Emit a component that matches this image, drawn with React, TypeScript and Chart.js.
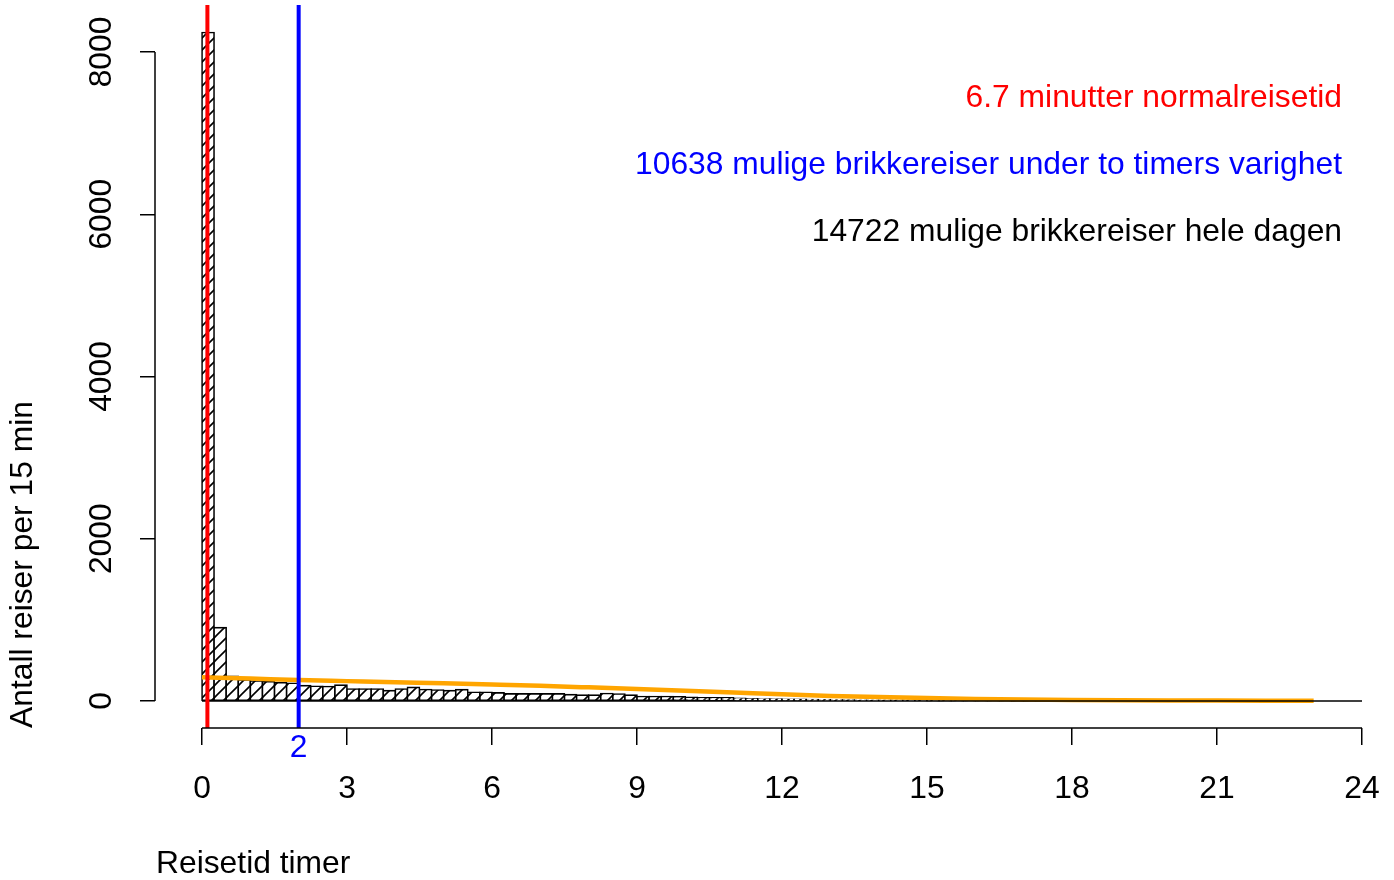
import React, { useEffect, useRef } from "react";
import { Chart, registerables } from "chart.js";

Chart.register(...registerables);

// ---- data ----
const binWidthHours = 0.25;
const binCounts = [
  8240, 905, 305, 260, 246, 238, 226, 218,
  190, 182, 178, 196, 148, 148, 148, 128, 148, 168,
  142, 136, 128, 140, 108, 108, 100, 88, 88, 88,
  88, 88, 78, 72, 72, 92, 86, 72, 55, 55,
  55, 52, 46, 40, 38, 40, 32, 26, 24, 24,
  20, 22, 17, 15, 13, 11, 10, 9, 8, 7,
  6, 6, 5, 5, 4, 4, 3, 3, 3, 2,
  2, 2, 2, 1, 1, 1, 1, 1, 1, 1,
  1, 0, 1, 0, 0, 1, 0, 0, 0, 0,
  0, 0, 0, 0, 0, 0, 0, 0,
];
const curveHours = [0, 1, 2, 3, 4, 5, 6, 7, 8, 9, 10, 11, 12, 13, 14, 15, 16, 17, 18, 19, 20, 21, 22, 23];
const curveValues = [292, 276, 259, 245, 231, 218, 203, 187, 168, 148, 127, 105, 82, 63, 48, 36, 26, 18, 12, 8, 6, 5, 4, 3];
const xTickValues = [0, 3, 6, 9, 12, 15, 18, 21, 24];
const yTickValues = [0, 2000, 4000, 6000, 8000];
const normalTravelHours = 6.7 / 60;
const limitHours = 2;
const limitLabel = "2";
const annotationLines = [
  { text: "6.7 minutter normalreisetid", color: "#FF0000" },
  { text: "10638 mulige brikkereiser under to timers varighet", color: "#0000FF" },
  { text: "14722 mulige brikkereiser hele dagen", color: "#000000" },
];
const xTitle = "Reisetid timer";
const yTitle = "Antall reiser per 15 min";

const FONT = '31.8px "Liberation Sans", Arial, Helvetica, sans-serif';

function makeHatch(): CanvasPattern | string {
  const c = document.createElement("canvas");
  c.width = 12;
  c.height = 12;
  const g = c.getContext("2d");
  if (!g) return "white";
  g.fillStyle = "white";
  g.fillRect(0, 0, 12, 12);
  g.strokeStyle = "black";
  g.lineWidth = 1.6;
  g.beginPath();
  g.moveTo(-2, 14);
  g.lineTo(14, -2);
  g.moveTo(-2, 2);
  g.lineTo(2, -2);
  g.moveTo(10, 14);
  g.lineTo(14, 10);
  g.stroke();
  const p = g.createPattern(c, "repeat");
  return p || "white";
}

const rDecor = {
  id: "rDecor",
  afterDatasetsDraw(chart: any) {
    const ctx: CanvasRenderingContext2D = chart.ctx;
    const xs = chart.scales.x;
    const ys = chart.scales.y;
    const area = chart.chartArea;
    ctx.save();
    // histogram baseline
    ctx.strokeStyle = "black";
    ctx.lineWidth = 1.5;
    ctx.beginPath();
    ctx.moveTo(xs.getPixelForValue(0), ys.getPixelForValue(0));
    ctx.lineTo(xs.getPixelForValue(binCounts.length * binWidthHours), ys.getPixelForValue(0));
    ctx.stroke();

    // vertical reference lines
    ctx.lineWidth = 4;
    ctx.strokeStyle = "#FF0000";
    ctx.beginPath();
    ctx.moveTo(xs.getPixelForValue(normalTravelHours), area.top);
    ctx.lineTo(xs.getPixelForValue(normalTravelHours), area.bottom);
    ctx.stroke();
    ctx.strokeStyle = "#0000FF";
    ctx.beginPath();
    ctx.moveTo(xs.getPixelForValue(limitHours), area.top);
    ctx.lineTo(xs.getPixelForValue(limitHours), area.bottom);
    ctx.stroke();
    ctx.restore();
  },
  afterDraw(chart: any) {
    const ctx: CanvasRenderingContext2D = chart.ctx;
    const xs = chart.scales.x;
    const ys = chart.scales.y;
    const area = chart.chartArea;
    ctx.save();
    ctx.strokeStyle = "black";
    ctx.lineWidth = 1.5;
    // x axis line
    ctx.beginPath();
    ctx.moveTo(xs.getPixelForValue(xTickValues[0]), area.bottom);
    ctx.lineTo(xs.getPixelForValue(xTickValues[xTickValues.length - 1]), area.bottom);
    ctx.stroke();
    // y axis line
    ctx.beginPath();
    ctx.moveTo(area.left, ys.getPixelForValue(yTickValues[0]));
    ctx.lineTo(area.left, ys.getPixelForValue(yTickValues[yTickValues.length - 1]));
    ctx.stroke();

    ctx.font = FONT;
    ctx.fillStyle = "black";
    // x tick labels
    ctx.textAlign = "center";
    ctx.textBaseline = "alphabetic";
    for (const v of xTickValues) {
      ctx.fillText(String(v), xs.getPixelForValue(v), area.bottom + 70);
    }
    // blue limit label
    ctx.fillStyle = "#0000FF";
    ctx.fillText(limitLabel, xs.getPixelForValue(limitHours), area.bottom + 29);

    // y tick labels (rotated)
    ctx.fillStyle = "black";
    for (const v of yTickValues) {
      ctx.save();
      ctx.translate(111, ys.getPixelForValue(v));
      ctx.rotate(-Math.PI / 2);
      ctx.textAlign = "center";
      ctx.fillText(String(v), 0, 0);
      ctx.restore();
    }
    // axis titles
    ctx.textAlign = "left";
    ctx.fillText(xTitle, area.left + 1, area.bottom + 145);
    ctx.save();
    ctx.translate(32, area.bottom);
    ctx.rotate(-Math.PI / 2);
    ctx.textAlign = "left";
    ctx.fillText(yTitle, 0, 0);
    ctx.restore();

    // annotations
    ctx.textAlign = "right";
    annotationLines.forEach((a, i) => {
      ctx.fillStyle = a.color;
      ctx.fillText(a.text, 1342, 107 + i * 67);
    });
    ctx.restore();
  },
};

export default function App() {
  const ref = useRef<HTMLCanvasElement | null>(null);
  useEffect(() => {
    document.body.style.margin = "0";
    document.body.style.overflow = "hidden";
    const canvas = ref.current;
    if (!canvas) return;
    const hatch = makeHatch();
    const barData = binCounts.map((c, i) => ({ x: (i + 0.5) * binWidthHours, y: c }));
    const curveData = curveHours.map((h, i) => ({ x: h, y: curveValues[i] }));
    const pxPerHour = 1160 / 24;
    const xMin = -(202 - 155) / pxPerHour;
    const xMax = xMin + 1239 / pxPerHour;
    const pxPerUnit = 649 / 8000;
    const yMin = -(728 - 701) / pxPerUnit;
    const yMax = (701 - 5) / pxPerUnit;

    const chart = new Chart(canvas, {
      type: "bar",
      data: {
        datasets: [
          {
            type: "bar",
            data: barData as any,
            backgroundColor: hatch as any,
            borderColor: "black",
            borderWidth: 1.6,
            borderSkipped: false,
            inflateAmount: 0.8,
            barPercentage: 1,
            categoryPercentage: 1,
            grouped: false,
            order: 2,
          } as any,
          {
            type: "line",
            data: curveData as any,
            borderColor: "#FFA500",
            borderWidth: 4.5,
            pointRadius: 0,
            tension: 0.3,
            cubicInterpolationMode: "monotone",
            fill: false,
            order: 1,
          } as any,
        ],
      },
      options: {
        responsive: false,
        animation: false,
        events: [],
        layout: { padding: { left: 0, right: 0, top: 5, bottom: 0 } },
        plugins: { legend: { display: false }, tooltip: { enabled: false } },
        scales: {
          x: {
            type: "linear",
            offset: false,
            min: xMin,
            max: xMax,
            border: { display: false },
            grid: { offset: false, drawOnChartArea: false, drawTicks: true, tickLength: 17, color: "black", lineWidth: 1.5 },
            ticks: { display: false },
            afterBuildTicks: (axis: any) => {
              axis.ticks = xTickValues.map((v) => ({ value: v }));
            },
            afterFit: (axis: any) => {
              axis.height = 152;
            },
          },
          y: {
            type: "linear",
            min: yMin,
            max: yMax,
            border: { display: false },
            grid: { drawOnChartArea: false, drawTicks: true, tickLength: 15, color: "black", lineWidth: 1.5 },
            ticks: { display: false },
            afterBuildTicks: (axis: any) => {
              axis.ticks = yTickValues.map((v) => ({ value: v }));
            },
            afterFit: (axis: any) => {
              axis.width = 155;
            },
          },
        },
      } as any,
      plugins: [rDecor],
    });
    return () => chart.destroy();
  }, []);
  return (
    <div style={{ width: 1394, height: 880, background: "white" }}>
      <canvas ref={ref} width={1394} height={880} style={{ display: "block" }} />
    </div>
  );
}
